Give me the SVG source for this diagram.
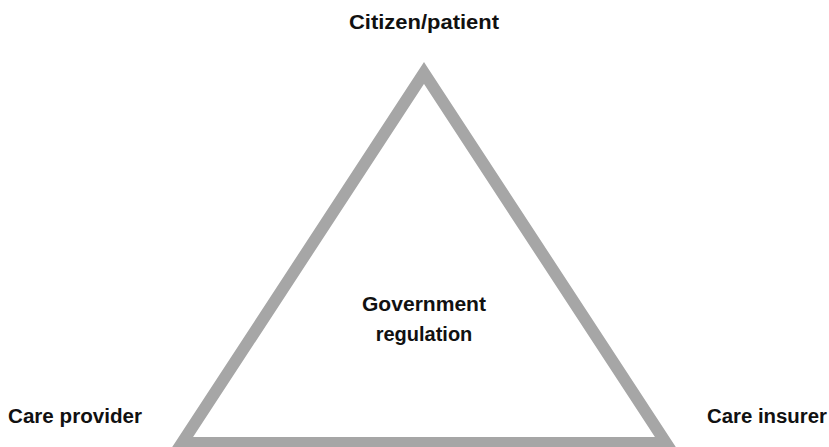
<svg xmlns="http://www.w3.org/2000/svg" width="829" height="447" viewBox="0 0 829 447">
<style>
.lbl{font-family:"Liberation Sans",Arial,sans-serif;font-weight:bold;font-size:20px;fill:#111}
.tri{fill:none;stroke:#a6a6a6;stroke-width:12;stroke-linejoin:miter;stroke-miterlimit:10}
</style>
<rect width="829" height="447" fill="#fff"/>
<g id="connectors">
<polygon class="tri" points="424,73 666,443 182,443"/>
</g>
<g id="citizen"><text class="lbl" x="424" y="29" text-anchor="middle" textLength="150" lengthAdjust="spacingAndGlyphs">Citizen/patient</text></g>
<g id="government"><text class="lbl" x="424" y="311" text-anchor="middle" textLength="124" lengthAdjust="spacingAndGlyphs">Government</text><text class="lbl" x="424" y="341" text-anchor="middle">regulation</text></g>
<g id="provider"><text class="lbl" x="8" y="423" textLength="134" lengthAdjust="spacingAndGlyphs">Care provider</text></g>
<g id="insurer"><text class="lbl" x="707" y="423" textLength="120" lengthAdjust="spacingAndGlyphs">Care insurer</text></g>
</svg>
